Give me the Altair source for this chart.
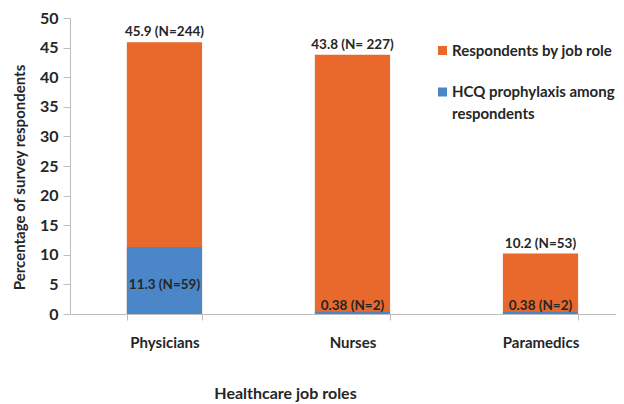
import altair as alt
import pandas as pd

roles = ["Physicians", "Nurses", "Paramedics"]
respondents_pct = [45.9, 43.8, 10.2]
respondents_label = ["45.9 (N=244)", "43.8 (N= 227)", "10.2 (N=53)"]
hcq_pct = [11.3, 0.38, 0.38]
hcq_label = ["11.3 (N=59)", "0.38 (N=2)", "0.38 (N=2)"]
series = ["Respondents by job role", "HCQ prophylaxis among respondents"]
legend_text = ["Respondents by job role", "HCQ prophylaxis among\nrespondents"]
y_ticks = [0, 5, 10, 15, 20, 25, 30, 35, 40, 45, 50]
colors = ["#E8692B", "#4A86C8"]

FONT = "Lato"
TXT = "#262626"

df = pd.DataFrame({
    "role": roles,
    "resp": respondents_pct,
    "resp_label": respondents_label,
    "hcq": hcq_pct,
    "hcq_label": hcq_label,
})

long = pd.DataFrame({
    "role": roles + roles,
    "series": [series[0]] * 3 + [series[1]] * 3,
    "value": respondents_pct + hcq_pct,
})

legend_df = pd.DataFrame({"series": series, "text": legend_text})

color_scale = alt.Scale(domain=series, range=colors)

x_axis = alt.Axis(
    title="Healthcare job roles",
    labelAngle=0,
    tickBand="extent",
    tickSize=6,
    tickColor="#bdbdbd",
    domainColor="#bdbdbd",
    labelFont=FONT,
    labelFontSize=15,
    labelFontWeight="bold",
    labelColor=TXT,
    labelPadding=15,
    titleFont=FONT,
    titleFontSize=16,
    titleFontWeight="bold",
    titleColor=TXT,
    titleX=215,
    titleY=79,
    titleBaseline="middle",
    titleAlign="center",
)
x_scale = alt.Scale(paddingInner=0.6, paddingOuter=0.252, align=0.6)

y_axis = alt.Axis(
    values=y_ticks,
    labelOverlap=False,
    grid=False,
    title="Percentage of survey respondents",
    tickSize=7,
    tickColor="#bdbdbd",
    domainColor="#bdbdbd",
    labelFont=FONT,
    labelFontSize=16,
    labelFontWeight="bold",
    labelColor=TXT,
    labelPadding=5,
    titleFont=FONT,
    titleFontSize=15,
    titleFontWeight="bold",
    titleColor=TXT,
    titleX=-51,
    titleY=159,
    titleAngle=-90,
    titleBaseline="middle",
    titleAlign="center",
)
y_scale = alt.Scale(domain=[0, 50])


def xe():
    return alt.X("role:N", sort=roles, scale=x_scale, axis=x_axis)


def ye(field):
    return alt.Y(field, stack=None, scale=y_scale, axis=y_axis)


color_enc = alt.Color("series:N", scale=color_scale, legend=None)

base = alt.Chart(long)

bars_resp = base.transform_filter(alt.datum.series == series[0]).mark_bar().encode(
    x=xe(), y=ye("value:Q"), color=color_enc
)
bars_hcq = base.transform_filter(alt.datum.series == series[1]).mark_bar().encode(
    x=xe(), y=ye("value:Q"), color=color_enc
)

label_style = dict(font=FONT, fontSize=13.5, fontWeight="bold", color=TXT)

top_labels = alt.Chart(df).mark_text(baseline="bottom", dy=-3, **label_style).encode(
    x=xe(),
    y=ye("resp:Q"),
    text="resp_label:N",
)

inner_labels = alt.Chart(df).transform_calculate(
    pos="datum.hcq > 5 ? datum.hcq * 0.43 : 1.35"
).mark_text(baseline="middle", **label_style).encode(
    x=xe(),
    y=ye("pos:Q"),
    text="hcq_label:N",
)

leg = alt.Chart(legend_df)
legend_layers = []
for i, (sy, ty) in enumerate([(32.5, 37.5), (74, 79)]):
    sub = leg.transform_filter(alt.datum.series == series[i])
    legend_layers.append(
        sub.mark_square(size=81, opacity=1).encode(
            x=alt.value(372.5), y=alt.value(sy), color=color_enc
        )
    )
    legend_layers.append(
        sub.mark_text(
            align="left", baseline="alphabetic", lineBreak="\n", lineHeight=22,
            font=FONT, fontSize=15, fontWeight="bold", color=TXT
        ).encode(x=alt.value(382), y=alt.value(ty), text="text:N")
    )

chart = alt.layer(bars_resp, bars_hcq, top_labels, inner_labels, *legend_layers).properties(
    width=546,
    height=296,
    padding={"left": 62, "top": 10, "right": 0, "bottom": 90},
    autosize=alt.AutoSizeParams(type="none"),
    background="white",
).configure_view(stroke=None)

chart.save("out.html", embed_options={"renderer": "svg", "actions": False})
